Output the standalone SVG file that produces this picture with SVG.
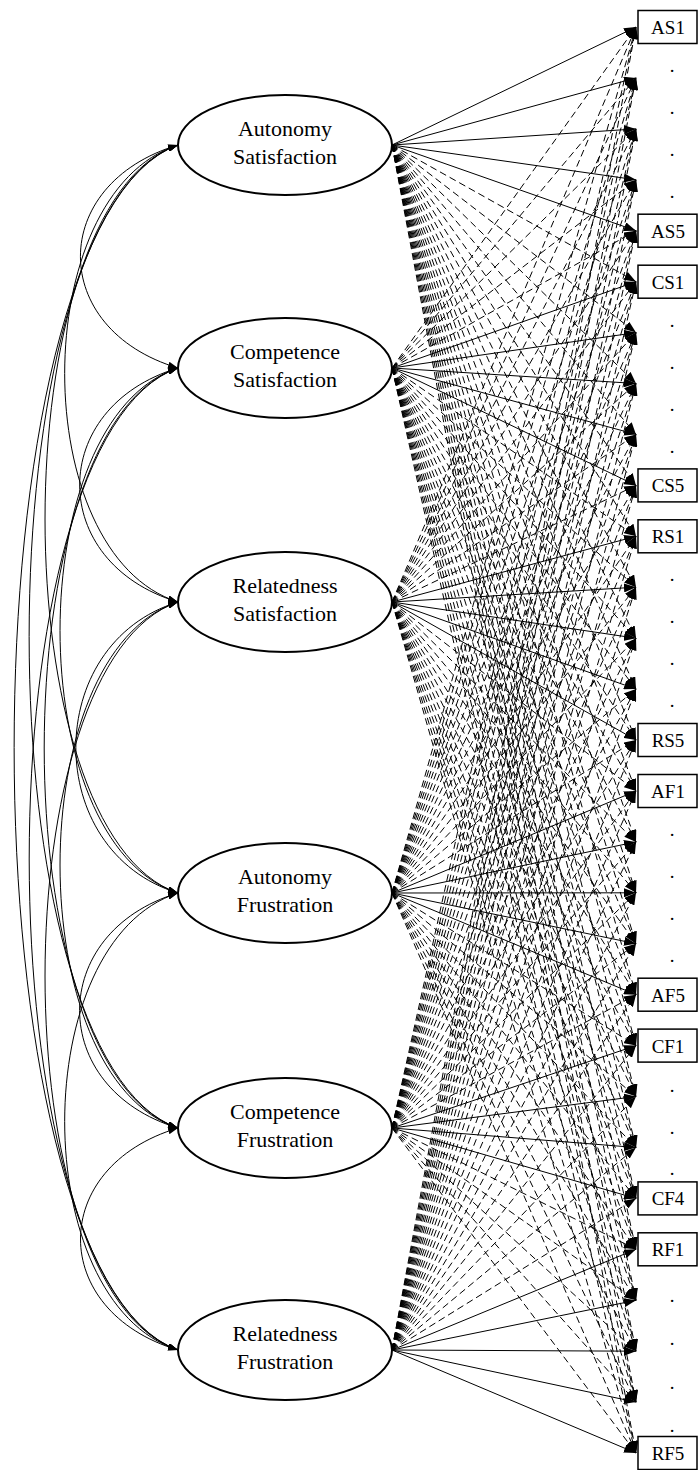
<svg xmlns="http://www.w3.org/2000/svg" width="698" height="1470" viewBox="0 0 698 1470">
<style>
.s{stroke:#000;stroke-width:1;fill:none;marker-end:url(#ah)}
.d{stroke:#000;stroke-width:1;fill:none;stroke-dasharray:7 4;marker-end:url(#ah)}
.cv{stroke:#000;stroke-width:1;fill:none;marker-start:url(#as);marker-end:url(#ae)}
.lat{fill:#fff;stroke:#000;stroke-width:2}
.box{fill:#fff;stroke:#000;stroke-width:1.5}
text{font-family:'Liberation Serif','DejaVu Serif',serif;fill:#000;text-anchor:middle}
.lt{font-size:22px}
.it{font-size:19px}
</style>
<defs>
<marker id="ah" viewBox="0 0 12 9" refX="12" refY="4.5" markerWidth="12" markerHeight="9" markerUnits="userSpaceOnUse" orient="auto"><path d="M0,0 L12,4.5 L0,9 z" fill="#000"/></marker>
<marker id="ae" viewBox="0 0 10 7" refX="10" refY="3.5" markerWidth="10" markerHeight="7" markerUnits="userSpaceOnUse" orient="auto"><path d="M0,0 L10,3.5 L0,7 z" fill="#000"/></marker>
<marker id="as" viewBox="0 0 10 7" refX="0" refY="3.5" markerWidth="10" markerHeight="7" markerUnits="userSpaceOnUse" orient="auto"><path d="M10,0 L0,3.5 L10,7 z" fill="#000"/></marker>
</defs>
<rect width="698" height="1470" fill="#fff"/>
<g id="connectors">
<g id="covariances">
<path class="cv" d="M178,145 C47.9,183.9 47.9,329.1 178,368"/>
<path class="cv" d="M178,145 C26.9,193.3 26.9,553.7 178,602"/>
<path class="cv" d="M178,145 C0.7,204.9 0.7,833.1 178,893"/>
<path class="cv" d="M178,145 C-20.5,214.3 -20.5,1058.7 178,1128"/>
<path class="cv" d="M178,145 C-40.5,223.2 -40.5,1271.8 178,1350"/>
<path class="cv" d="M178,368 C46.9,407.4 46.9,562.6 178,602"/>
<path class="cv" d="M178,368 C20.7,419 20.7,842 178,893"/>
<path class="cv" d="M178,368 C-0.4,428.4 -0.4,1067.6 178,1128"/>
<path class="cv" d="M178,368 C-20.4,437.3 -20.4,1280.7 178,1350"/>
<path class="cv" d="M178,602 C41.8,643.6 41.8,851.4 178,893"/>
<path class="cv" d="M178,602 C20.7,653 20.7,1077 178,1128"/>
<path class="cv" d="M178,602 C0.7,661.9 0.7,1290.1 178,1350"/>
<path class="cv" d="M178,893 C46.8,932.4 46.8,1088.6 178,1128"/>
<path class="cv" d="M178,893 C26.9,941.3 26.9,1301.7 178,1350"/>
<path class="cv" d="M178,1128 C48,1166.9 48,1311.1 178,1350"/>
</g>
<g id="loadings-AS">
<line class="s" x1="392" y1="145" x2="636" y2="27"/>
<line class="s" x1="392" y1="145" x2="636" y2="77.9"/>
<line class="s" x1="392" y1="145" x2="636" y2="128.9"/>
<line class="s" x1="392" y1="145" x2="636" y2="179.8"/>
<line class="s" x1="392" y1="145" x2="636" y2="230.7"/>
<line class="d" x1="392" y1="145" x2="636" y2="281.7"/>
<line class="d" x1="392" y1="145" x2="636" y2="332.6"/>
<line class="d" x1="392" y1="145" x2="636" y2="383.5"/>
<line class="d" x1="392" y1="145" x2="636" y2="434.4"/>
<line class="d" x1="392" y1="145" x2="636" y2="485.4"/>
<line class="d" x1="392" y1="145" x2="636" y2="536.3"/>
<line class="d" x1="392" y1="145" x2="636" y2="587.2"/>
<line class="d" x1="392" y1="145" x2="636" y2="638.2"/>
<line class="d" x1="392" y1="145" x2="636" y2="689.1"/>
<line class="d" x1="392" y1="145" x2="636" y2="740"/>
<line class="d" x1="392" y1="145" x2="636" y2="791"/>
<line class="d" x1="392" y1="145" x2="636" y2="841.9"/>
<line class="d" x1="392" y1="145" x2="636" y2="892.8"/>
<line class="d" x1="392" y1="145" x2="636" y2="943.7"/>
<line class="d" x1="392" y1="145" x2="636" y2="994.7"/>
<line class="d" x1="392" y1="145" x2="636" y2="1045.6"/>
<line class="d" x1="392" y1="145" x2="636" y2="1096.5"/>
<line class="d" x1="392" y1="145" x2="636" y2="1147.5"/>
<line class="d" x1="392" y1="145" x2="636" y2="1198.4"/>
<line class="d" x1="392" y1="145" x2="636" y2="1249.3"/>
<line class="d" x1="392" y1="145" x2="636" y2="1300.3"/>
<line class="d" x1="392" y1="145" x2="636" y2="1351.2"/>
<line class="d" x1="392" y1="145" x2="636" y2="1402.1"/>
<line class="d" x1="392" y1="145" x2="636" y2="1453"/>
</g>
<g id="loadings-CS">
<line class="d" x1="392" y1="368" x2="636" y2="27"/>
<line class="d" x1="392" y1="368" x2="636" y2="77.9"/>
<line class="d" x1="392" y1="368" x2="636" y2="128.9"/>
<line class="d" x1="392" y1="368" x2="636" y2="179.8"/>
<line class="d" x1="392" y1="368" x2="636" y2="230.7"/>
<line class="s" x1="392" y1="368" x2="636" y2="281.7"/>
<line class="s" x1="392" y1="368" x2="636" y2="332.6"/>
<line class="s" x1="392" y1="368" x2="636" y2="383.5"/>
<line class="s" x1="392" y1="368" x2="636" y2="434.4"/>
<line class="s" x1="392" y1="368" x2="636" y2="485.4"/>
<line class="d" x1="392" y1="368" x2="636" y2="536.3"/>
<line class="d" x1="392" y1="368" x2="636" y2="587.2"/>
<line class="d" x1="392" y1="368" x2="636" y2="638.2"/>
<line class="d" x1="392" y1="368" x2="636" y2="689.1"/>
<line class="d" x1="392" y1="368" x2="636" y2="740"/>
<line class="d" x1="392" y1="368" x2="636" y2="791"/>
<line class="d" x1="392" y1="368" x2="636" y2="841.9"/>
<line class="d" x1="392" y1="368" x2="636" y2="892.8"/>
<line class="d" x1="392" y1="368" x2="636" y2="943.7"/>
<line class="d" x1="392" y1="368" x2="636" y2="994.7"/>
<line class="d" x1="392" y1="368" x2="636" y2="1045.6"/>
<line class="d" x1="392" y1="368" x2="636" y2="1096.5"/>
<line class="d" x1="392" y1="368" x2="636" y2="1147.5"/>
<line class="d" x1="392" y1="368" x2="636" y2="1198.4"/>
<line class="d" x1="392" y1="368" x2="636" y2="1249.3"/>
<line class="d" x1="392" y1="368" x2="636" y2="1300.3"/>
<line class="d" x1="392" y1="368" x2="636" y2="1351.2"/>
<line class="d" x1="392" y1="368" x2="636" y2="1402.1"/>
<line class="d" x1="392" y1="368" x2="636" y2="1453"/>
</g>
<g id="loadings-RS">
<line class="d" x1="392" y1="602" x2="636" y2="27"/>
<line class="d" x1="392" y1="602" x2="636" y2="77.9"/>
<line class="d" x1="392" y1="602" x2="636" y2="128.9"/>
<line class="d" x1="392" y1="602" x2="636" y2="179.8"/>
<line class="d" x1="392" y1="602" x2="636" y2="230.7"/>
<line class="d" x1="392" y1="602" x2="636" y2="281.7"/>
<line class="d" x1="392" y1="602" x2="636" y2="332.6"/>
<line class="d" x1="392" y1="602" x2="636" y2="383.5"/>
<line class="d" x1="392" y1="602" x2="636" y2="434.4"/>
<line class="d" x1="392" y1="602" x2="636" y2="485.4"/>
<line class="s" x1="392" y1="602" x2="636" y2="536.3"/>
<line class="s" x1="392" y1="602" x2="636" y2="587.2"/>
<line class="s" x1="392" y1="602" x2="636" y2="638.2"/>
<line class="s" x1="392" y1="602" x2="636" y2="689.1"/>
<line class="s" x1="392" y1="602" x2="636" y2="740"/>
<line class="d" x1="392" y1="602" x2="636" y2="791"/>
<line class="d" x1="392" y1="602" x2="636" y2="841.9"/>
<line class="d" x1="392" y1="602" x2="636" y2="892.8"/>
<line class="d" x1="392" y1="602" x2="636" y2="943.7"/>
<line class="d" x1="392" y1="602" x2="636" y2="994.7"/>
<line class="d" x1="392" y1="602" x2="636" y2="1045.6"/>
<line class="d" x1="392" y1="602" x2="636" y2="1096.5"/>
<line class="d" x1="392" y1="602" x2="636" y2="1147.5"/>
<line class="d" x1="392" y1="602" x2="636" y2="1198.4"/>
<line class="d" x1="392" y1="602" x2="636" y2="1249.3"/>
<line class="d" x1="392" y1="602" x2="636" y2="1300.3"/>
<line class="d" x1="392" y1="602" x2="636" y2="1351.2"/>
<line class="d" x1="392" y1="602" x2="636" y2="1402.1"/>
<line class="d" x1="392" y1="602" x2="636" y2="1453"/>
</g>
<g id="loadings-AF">
<line class="d" x1="392" y1="893" x2="636" y2="27"/>
<line class="d" x1="392" y1="893" x2="636" y2="77.9"/>
<line class="d" x1="392" y1="893" x2="636" y2="128.9"/>
<line class="d" x1="392" y1="893" x2="636" y2="179.8"/>
<line class="d" x1="392" y1="893" x2="636" y2="230.7"/>
<line class="d" x1="392" y1="893" x2="636" y2="281.7"/>
<line class="d" x1="392" y1="893" x2="636" y2="332.6"/>
<line class="d" x1="392" y1="893" x2="636" y2="383.5"/>
<line class="d" x1="392" y1="893" x2="636" y2="434.4"/>
<line class="d" x1="392" y1="893" x2="636" y2="485.4"/>
<line class="d" x1="392" y1="893" x2="636" y2="536.3"/>
<line class="d" x1="392" y1="893" x2="636" y2="587.2"/>
<line class="d" x1="392" y1="893" x2="636" y2="638.2"/>
<line class="d" x1="392" y1="893" x2="636" y2="689.1"/>
<line class="d" x1="392" y1="893" x2="636" y2="740"/>
<line class="s" x1="392" y1="893" x2="636" y2="791"/>
<line class="s" x1="392" y1="893" x2="636" y2="841.9"/>
<line class="s" x1="392" y1="893" x2="636" y2="892.8"/>
<line class="s" x1="392" y1="893" x2="636" y2="943.7"/>
<line class="s" x1="392" y1="893" x2="636" y2="994.7"/>
<line class="d" x1="392" y1="893" x2="636" y2="1045.6"/>
<line class="d" x1="392" y1="893" x2="636" y2="1096.5"/>
<line class="d" x1="392" y1="893" x2="636" y2="1147.5"/>
<line class="d" x1="392" y1="893" x2="636" y2="1198.4"/>
<line class="d" x1="392" y1="893" x2="636" y2="1249.3"/>
<line class="d" x1="392" y1="893" x2="636" y2="1300.3"/>
<line class="d" x1="392" y1="893" x2="636" y2="1351.2"/>
<line class="d" x1="392" y1="893" x2="636" y2="1402.1"/>
<line class="d" x1="392" y1="893" x2="636" y2="1453"/>
</g>
<g id="loadings-CF">
<line class="d" x1="392" y1="1128" x2="636" y2="27"/>
<line class="d" x1="392" y1="1128" x2="636" y2="77.9"/>
<line class="d" x1="392" y1="1128" x2="636" y2="128.9"/>
<line class="d" x1="392" y1="1128" x2="636" y2="179.8"/>
<line class="d" x1="392" y1="1128" x2="636" y2="230.7"/>
<line class="d" x1="392" y1="1128" x2="636" y2="281.7"/>
<line class="d" x1="392" y1="1128" x2="636" y2="332.6"/>
<line class="d" x1="392" y1="1128" x2="636" y2="383.5"/>
<line class="d" x1="392" y1="1128" x2="636" y2="434.4"/>
<line class="d" x1="392" y1="1128" x2="636" y2="485.4"/>
<line class="d" x1="392" y1="1128" x2="636" y2="536.3"/>
<line class="d" x1="392" y1="1128" x2="636" y2="587.2"/>
<line class="d" x1="392" y1="1128" x2="636" y2="638.2"/>
<line class="d" x1="392" y1="1128" x2="636" y2="689.1"/>
<line class="d" x1="392" y1="1128" x2="636" y2="740"/>
<line class="d" x1="392" y1="1128" x2="636" y2="791"/>
<line class="d" x1="392" y1="1128" x2="636" y2="841.9"/>
<line class="d" x1="392" y1="1128" x2="636" y2="892.8"/>
<line class="d" x1="392" y1="1128" x2="636" y2="943.7"/>
<line class="d" x1="392" y1="1128" x2="636" y2="994.7"/>
<line class="s" x1="392" y1="1128" x2="636" y2="1045.6"/>
<line class="s" x1="392" y1="1128" x2="636" y2="1096.5"/>
<line class="s" x1="392" y1="1128" x2="636" y2="1147.5"/>
<line class="s" x1="392" y1="1128" x2="636" y2="1198.4"/>
<line class="d" x1="392" y1="1128" x2="636" y2="1249.3"/>
<line class="d" x1="392" y1="1128" x2="636" y2="1300.3"/>
<line class="d" x1="392" y1="1128" x2="636" y2="1351.2"/>
<line class="d" x1="392" y1="1128" x2="636" y2="1402.1"/>
<line class="d" x1="392" y1="1128" x2="636" y2="1453"/>
</g>
<g id="loadings-RF">
<line class="d" x1="392" y1="1350" x2="636" y2="27"/>
<line class="d" x1="392" y1="1350" x2="636" y2="77.9"/>
<line class="d" x1="392" y1="1350" x2="636" y2="128.9"/>
<line class="d" x1="392" y1="1350" x2="636" y2="179.8"/>
<line class="d" x1="392" y1="1350" x2="636" y2="230.7"/>
<line class="d" x1="392" y1="1350" x2="636" y2="281.7"/>
<line class="d" x1="392" y1="1350" x2="636" y2="332.6"/>
<line class="d" x1="392" y1="1350" x2="636" y2="383.5"/>
<line class="d" x1="392" y1="1350" x2="636" y2="434.4"/>
<line class="d" x1="392" y1="1350" x2="636" y2="485.4"/>
<line class="d" x1="392" y1="1350" x2="636" y2="536.3"/>
<line class="d" x1="392" y1="1350" x2="636" y2="587.2"/>
<line class="d" x1="392" y1="1350" x2="636" y2="638.2"/>
<line class="d" x1="392" y1="1350" x2="636" y2="689.1"/>
<line class="d" x1="392" y1="1350" x2="636" y2="740"/>
<line class="d" x1="392" y1="1350" x2="636" y2="791"/>
<line class="d" x1="392" y1="1350" x2="636" y2="841.9"/>
<line class="d" x1="392" y1="1350" x2="636" y2="892.8"/>
<line class="d" x1="392" y1="1350" x2="636" y2="943.7"/>
<line class="d" x1="392" y1="1350" x2="636" y2="994.7"/>
<line class="d" x1="392" y1="1350" x2="636" y2="1045.6"/>
<line class="d" x1="392" y1="1350" x2="636" y2="1096.5"/>
<line class="d" x1="392" y1="1350" x2="636" y2="1147.5"/>
<line class="d" x1="392" y1="1350" x2="636" y2="1198.4"/>
<line class="s" x1="392" y1="1350" x2="636" y2="1249.3"/>
<line class="s" x1="392" y1="1350" x2="636" y2="1300.3"/>
<line class="s" x1="392" y1="1350" x2="636" y2="1351.2"/>
<line class="s" x1="392" y1="1350" x2="636" y2="1402.1"/>
<line class="s" x1="392" y1="1350" x2="636" y2="1453"/>
</g>
</g>
<g id="AS"><ellipse class="lat" cx="285" cy="145" rx="107" ry="50"/><text class="lt" x="285" y="136">Autonomy</text><text class="lt" x="285" y="164">Satisfaction</text></g>
<g id="CS"><ellipse class="lat" cx="285" cy="368" rx="107" ry="50"/><text class="lt" x="285" y="359">Competence</text><text class="lt" x="285" y="387">Satisfaction</text></g>
<g id="RS"><ellipse class="lat" cx="285" cy="602" rx="107" ry="50"/><text class="lt" x="285" y="593">Relatedness</text><text class="lt" x="285" y="621">Satisfaction</text></g>
<g id="AF"><ellipse class="lat" cx="285" cy="893" rx="107" ry="50"/><text class="lt" x="285" y="884">Autonomy</text><text class="lt" x="285" y="912">Frustration</text></g>
<g id="CF"><ellipse class="lat" cx="285" cy="1128" rx="107" ry="50"/><text class="lt" x="285" y="1119">Competence</text><text class="lt" x="285" y="1147">Frustration</text></g>
<g id="RF"><ellipse class="lat" cx="285" cy="1350" rx="107" ry="50"/><text class="lt" x="285" y="1341">Relatedness</text><text class="lt" x="285" y="1369">Frustration</text></g>
<g id="AS1"><rect class="box" x="638" y="10.5" width="59" height="33"/><text class="it" x="668" y="34">AS1</text></g>
<g id="AS5"><rect class="box" x="638" y="214.2" width="59" height="33"/><text class="it" x="668" y="237.7">AS5</text></g>
<g id="CS1"><rect class="box" x="638" y="265.2" width="59" height="33"/><text class="it" x="668" y="288.7">CS1</text></g>
<g id="CS5"><rect class="box" x="638" y="468.9" width="59" height="33"/><text class="it" x="668" y="492.4">CS5</text></g>
<g id="RS1"><rect class="box" x="638" y="519.8" width="59" height="33"/><text class="it" x="668" y="543.3">RS1</text></g>
<g id="RS5"><rect class="box" x="638" y="723.5" width="59" height="33"/><text class="it" x="668" y="747">RS5</text></g>
<g id="AF1"><rect class="box" x="638" y="774.5" width="59" height="33"/><text class="it" x="668" y="798">AF1</text></g>
<g id="AF5"><rect class="box" x="638" y="978.2" width="59" height="33"/><text class="it" x="668" y="1001.7">AF5</text></g>
<g id="CF1"><rect class="box" x="638" y="1029.1" width="59" height="33"/><text class="it" x="668" y="1052.6">CF1</text></g>
<g id="CF4"><rect class="box" x="638" y="1181.9" width="59" height="33"/><text class="it" x="668" y="1205.4">CF4</text></g>
<g id="RF1"><rect class="box" x="638" y="1232.8" width="59" height="33"/><text class="it" x="668" y="1256.3">RF1</text></g>
<g id="RF5"><rect class="box" x="638" y="1436.5" width="59" height="33"/><text class="it" x="668" y="1460">RF5</text></g>
<g id="ellipsis-dots">
<text class="it" x="672" y="72">.</text><text class="it" x="672" y="114">.</text><text class="it" x="672" y="156">.</text><text class="it" x="672" y="198">.</text>
<text class="it" x="672" y="327">.</text><text class="it" x="672" y="369">.</text><text class="it" x="672" y="411">.</text><text class="it" x="672" y="453">.</text>
<text class="it" x="672" y="581">.</text><text class="it" x="672" y="623">.</text><text class="it" x="672" y="665">.</text><text class="it" x="672" y="707">.</text>
<text class="it" x="672" y="836">.</text><text class="it" x="672" y="878">.</text><text class="it" x="672" y="920">.</text><text class="it" x="672" y="962">.</text>
<text class="it" x="672" y="1092">.</text><text class="it" x="672" y="1134">.</text><text class="it" x="672" y="1175">.</text>
<text class="it" x="672" y="1302">.</text><text class="it" x="672" y="1345">.</text><text class="it" x="672" y="1389">.</text><text class="it" x="672" y="1432">.</text>
</g>
</svg>
